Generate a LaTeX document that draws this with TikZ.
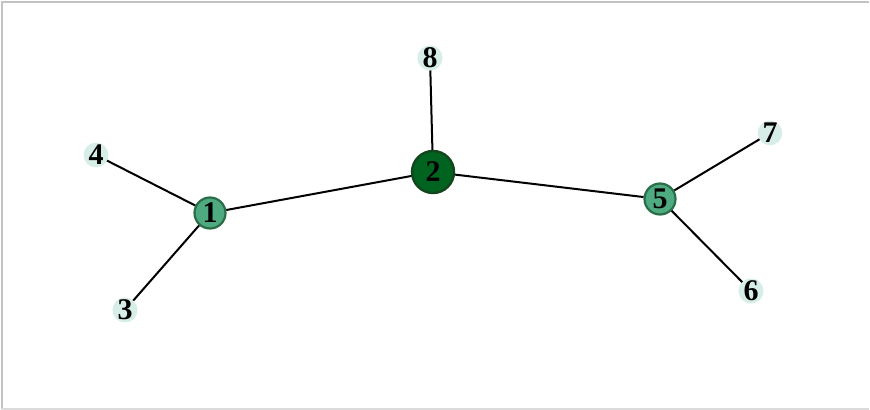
\documentclass[tikz,border=0pt]{standalone}
\usepackage{fontspec}
\setmainfont{Liberation Serif}
\definecolor{hubgreen}{RGB}{0, 100, 32}
\definecolor{hubedge}{RGB}{20, 70, 30}
\definecolor{midgreen}{RGB}{78, 170, 128}
\definecolor{midedge}{RGB}{42, 110, 72}
\definecolor{leafteal}{RGB}{215, 238, 232}
\definecolor{framegray}{RGB}{195, 195, 195}
\tikzset{
	hub/.style={circle, draw=hubedge, fill=hubgreen, line width=1.2pt, minimum size=21pt, inner sep=0pt, font=\bfseries\fontsize{15}{15}\selectfont},
	mid/.style={circle, draw=midedge, fill=midgreen, line width=1.1pt, minimum size=15.5pt, inner sep=0pt, font=\bfseries\fontsize{15}{15}\selectfont},
	leaf/.style={circle, fill=leafteal, minimum size=4pt, inner sep=0pt, font=\bfseries\fontsize{15}{15}\selectfont},
	link/.style={line width=1pt, draw=black},
}

\begin{document}
\begin{tikzpicture}[x=0.5pt, y=-0.5pt]
		\useasboundingbox (0,0) rectangle (870,410);
		\draw[framegray, line width=0.6pt] (2,409) -- (2,2) -- (869,2);
		\draw[framegray!60, line width=0.6pt] (2,409) -- (869,409);
		% hubs
		\node[hub] (n2) at (433,172) {2};
		\node[mid] (n1) at (210,213) {1};
		\node[mid] (n5) at (660,199) {5};
		% leaves
		\coordinate (n4) at (96,155);
		\coordinate (n3) at (125,310);
		\coordinate (n8) at (430,58);
		\coordinate (n7) at (770,133);
		\coordinate (n6) at (751,291);
		\draw[link] (n1) -- (n2);
		\draw[link] (n2) -- (n5);
		\draw[link] (n2) -- (n8);
		\draw[link] (n1) -- (n4);
		\draw[link] (n1) -- (n3);
		\draw[link] (n5) -- (n7);
		\draw[link] (n5) -- (n6);
		\node[leaf] (l4) at (n4) {4};
		\node[leaf] (l3) at (n3) {3};
		\node[leaf] (l8) at (n8) {8};
		\node[leaf] (l7) at (n7) {7};
		\node[leaf] (l6) at (n6) {6};
	\end{tikzpicture}
\end{document}
